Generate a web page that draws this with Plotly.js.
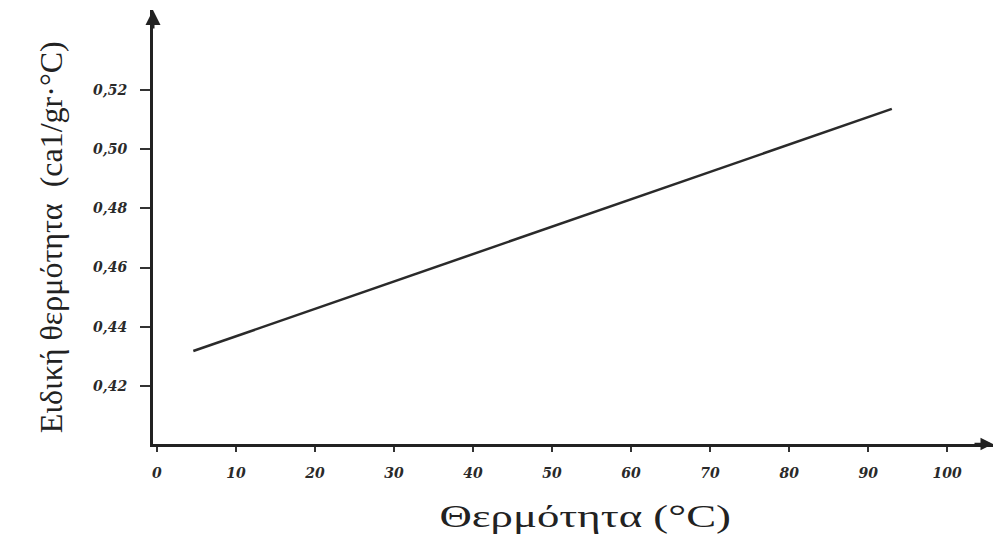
<!DOCTYPE html>
<html>
<head>
<meta charset="utf-8">
<script src="https://cdn.plot.ly/plotly-3.0.1.min.js"></script>
<style>html,body{margin:0;padding:0;background:#fff;}#chart{width:995px;height:534px;}</style>
</head>
<body>
<div id="chart"></div>
<script>
// Data
const temperature = [4.6, 93.0];          // °C
const specificHeat = [0.4318, 0.5136];    // cal/gr·°C
const xTickVals = [0, 10, 20, 30, 40, 50, 60, 70, 80, 90, 100];
const xTickText = ['0', '10', '20', '30', '40', '50', '60', '70', '80', '90', '100'];
const yTickVals = [0.42, 0.44, 0.46, 0.48, 0.50, 0.52];
const yTickText = ['0,42', '0,44', '0,46', '0,48', '0,50', '0,52'];

const tickFont = {family: 'DejaVu Serif, serif', size: 14, color: '#2a2a2a', style: 'italic', weight: 'bold'};

const trace = {
  x: temperature, y: specificHeat, mode: 'lines', type: 'scatter',
  line: {color: '#2a2a2a', width: 2.5}, hoverinfo: 'skip', showlegend: false
};

const layout = {
  width: 995, height: 534,
  margin: {l: 153, r: 2, t: 10, b: 90},
  paper_bgcolor: '#fff', plot_bgcolor: '#fff',
  xaxis: {
    range: [-0.5, 105.8], showgrid: false, zeroline: false,
    showline: true, linecolor: '#222', linewidth: 2.5,
    tickmode: 'array', tickvals: xTickVals, ticktext: xTickText,
    ticks: 'outside', ticklen: 5, tickwidth: 2.5, tickcolor: '#333',
    ticklabelstandoff: 10, tickfont: tickFont
  },
  yaxis: {
    range: [0.4004, 0.547], showgrid: false, zeroline: false,
    showline: true, linecolor: '#222', linewidth: 3,
    tickmode: 'array', tickvals: yTickVals, ticktext: yTickText,
    ticks: 'outside', ticklen: 10, tickwidth: 2, tickcolor: '#333',
    ticklabelstandoff: 10, tickfont: tickFont
  },
  annotations: [
    {xref: 'paper', yref: 'paper', x: -0.145, y: 0.477, text: 'Ειδική θερμότητα  (ca1/gr·°C)',
     textangle: -90, showarrow: false, font: {family: 'Liberation Serif, serif', size: 32, color: '#222'}},
    {xref: 'paper', yref: 'paper', x: 0.514, y: -0.166, yanchor: 'middle', text: 'Θερμότητα (°C)',
     showarrow: false, font: {family: 'Liberation Serif, serif', size: 32, color: '#222'}},
    {xref: 'paper', yref: 'paper', x: 0, y: 1.0, ax: 0, ay: 20, text: '', showarrow: true,
     arrowhead: 2, arrowsize: 1, arrowwidth: 3, arrowcolor: '#222'},
    {xref: 'paper', yref: 'paper', x: 1.0, y: 0, ax: -20, ay: 0, text: '', showarrow: true,
     arrowhead: 2, arrowsize: 1, arrowwidth: 2.5, arrowcolor: '#222'}
  ]
};

Plotly.newPlot('chart', [trace], layout, {staticPlot: true, displayModeBar: false}).then(function (gd) {
  // the reference picture is stretched horizontally; widen the x-axis title the same way
  const t = gd.querySelector('g.annotation[data-index="1"] text.annotation-text');
  if (t) {
    t.style.transformBox = 'fill-box';
    t.style.transformOrigin = 'center';
    t.style.transform = 'scaleX(1.4)';
  }
});
</script>
</body>
</html>
